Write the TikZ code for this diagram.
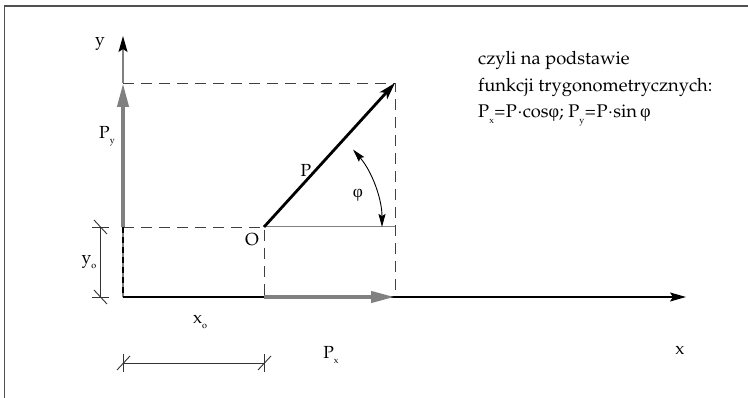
\documentclass[tikz,border=0pt]{standalone}
\usepackage{fontspec}
\newfontfamily\grkfont{Liberation Serif}
\usepackage[T1]{fontenc}
\usepackage{mathpazo}
\usetikzlibrary{arrows.meta}
\definecolor{vecgray}{RGB}{128,128,128}
\definecolor{framegray}{RGB}{80,80,80}
\newcommand\sbs[1]{\raisebox{-0.3em}{\fontsize{9}{9}\selectfont #1}}
\newcommand\phisym{{\grkfont φ}}
\tikzset{
  axis/.style={line width=1.1pt, black},
  guide/.style={line width=0.9pt, black!75, dash pattern=on 11pt off 7pt},
  compvec/.style={line width=4pt, vecgray, -{Triangle[length=24pt,width=11pt]}},
  mainvec/.style={line width=2.8pt, black, -{Stealth[length=17pt,width=10pt,inset=4pt]}},
  dimline/.style={line width=0.9pt, black!80},
  lbl/.style={font=\fontsize{17.5}{20}\selectfont, inner sep=0pt},
  txt/.style={font=\fontsize{18.3}{21}\selectfont, inner sep=0pt, anchor=base west}
}
\begin{document}
\begin{tikzpicture}[x=1pt,y=-1pt]
\useasboundingbox (0,0) rectangle (748,398);
% frame
\draw[framegray, line width=1.3pt] (4.5,398) -- (4.5,6) -- (748,6);
% coordinates
\coordinate (orig) at (123,297);
\coordinate (ytip) at (123,36);
\coordinate (xtip) at (686,297);
\coordinate (O) at (264,227);
\coordinate (Ptip) at (395,83);
\coordinate (Ylev) at (123,83);
\coordinate (Yo) at (123,227);
\coordinate (Xp) at (395,297);
\coordinate (Xo) at (264,297);
\coordinate (Rc) at (395,227);
% guides
\draw[guide] (Ylev) -- (Ptip) -- (Xp);
\draw[guide] (Yo) -- (O) -- (Xo);
\draw[line width=1pt, vecgray] (O) -- (Rc);
% lower y-axis part
\draw[line width=1.6pt, vecgray] (Yo) -- (orig);
\draw[line width=1.1pt, black, dash pattern=on 6pt off 4pt] (Yo) -- (orig);
% axes
\draw[line width=1.2pt, vecgray, -{Stealth[length=16pt,width=9pt,inset=3pt,black]}] (Ylev) -- (ytip);
\draw[axis, -{Stealth[length=16pt,width=9pt,inset=3pt]}] (orig) -- (xtip);
% component vectors
\draw[compvec] (Yo) -- (Ylev);
\draw[compvec] (Xo) -- (Xp);
% main vector
\draw[mainvec] (O) -- (Ptip);
% angle arc
\draw[line width=0.9pt, {Stealth[length=13pt,width=7pt,inset=2pt]}-{Stealth[length=13pt,width=7pt,inset=2pt]}] (O) ++(-41:118) arc[start angle=-41, end angle=0, radius=118];
% dimension y0
\draw[dimline] (100,227) -- (100,297);
\draw[dimline] (92,227) -- (109,227);
\draw[dimline] (92,297) -- (109,297);
\draw[dimline] (94,220) -- (107,234);
\draw[dimline] (94,290) -- (107,304);
% dimension x0
\draw[dimline] (123,363) -- (264,363);
\draw[dimline] (123,354) -- (123,372);
\draw[dimline] (264,354) -- (264,372);
\draw[dimline] (117,370) -- (130,356);
\draw[dimline] (258,370) -- (271,356);
% labels
\node[lbl] (ly) at (100,44) {y};
\node[lbl] (lx) at (680,350) {x};
\node[lbl] (lPy) at (107,136) {P\sbs{y}};
\node[lbl] (lyo) at (89,262) {y\sbs{o}};
\node[lbl] (lxo) at (200,322) {x\sbs{o}};
\node[lbl] (lPx) at (331,355) {P\sbs{x}};
\node[lbl] (lP) at (306,170) {P};
\node[lbl] (lO) at (252,240) {O};
\node[lbl] (lphi) at (358,195) {\phisym};
% text
\node[txt] (t1) at (478,65) {czyli na podstawie};
\node[txt] (t2) at (478,92) {funkcji trygonometrycznych:};
\node[txt] (t3) at (478,118) {P\sbs{x}\kern0.5pt=\kern0.5ptP$\cdot$cos\phisym; P\sbs{y}\kern0.5pt=\kern0.5ptP$\cdot$sin\,\phisym};
\end{tikzpicture}
\end{document}
